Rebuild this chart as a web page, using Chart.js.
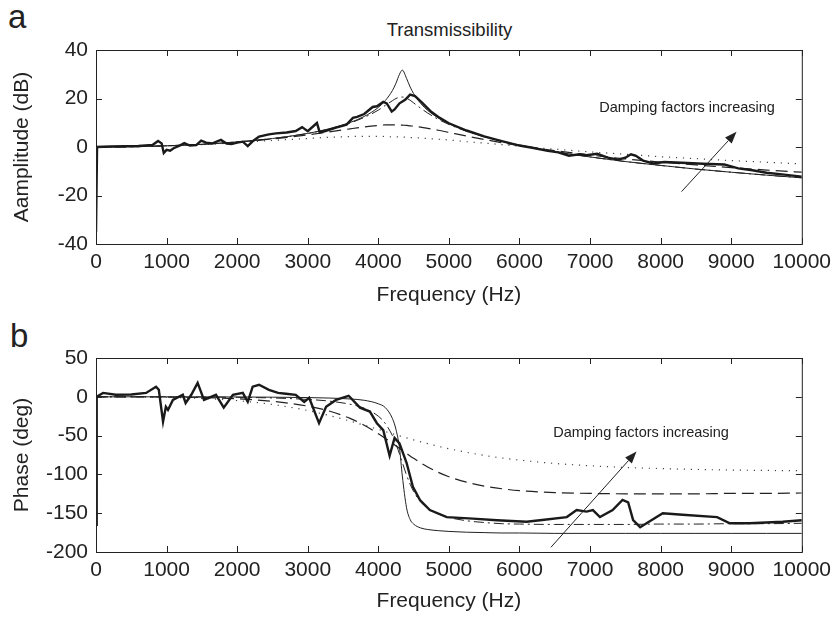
<!DOCTYPE html>
<html>
<head>
<meta charset="utf-8">
<script src="https://cdn.jsdelivr.net/npm/chart.js@4.4.0/dist/chart.umd.min.js"></script>
<style>
  body { margin: 0; background: #fff; }
  #wrap { position: relative; width: 837px; height: 618px; font-family: "Liberation Sans", Arial, sans-serif; color: #222; }
  #wrap canvas { position: absolute; left: 0; }
  .panel { position: absolute; font-size: 33px; line-height: 1; }
  #title { position: absolute; left: 96px; width: 707px; top: 21px; text-align: center; font-size: 18.5px; line-height: 1; }
</style>
</head>
<body>
<div id="wrap">
  <div class="panel" style="left:8px; top:0px;">a</div>
  <div class="panel" style="left:10px; top:319px;">b</div>
  <div id="title">Transmissibility</div>
  <canvas id="ampChart" width="837" height="310" style="top:0"></canvas>
  <canvas id="phaseChart" width="837" height="308" style="top:310px"></canvas>
</div>
<script>
// Axis ticks
const freqTicks = [0, 1000, 2000, 3000, 4000, 5000, 6000, 7000, 8000, 9000, 10000];
const ampTicks = [-40, -20, 0, 20, 40];
const phaseTicks = [-200, -150, -100, -50, 0, 50];

// Model curves share one frequency grid (Hz)
const modelFreq = [0, 500, 1000, 1500, 2000, 2500, 3000, 3300, 3600, 3800, 4000, 4100, 4200, 4250, 4300, 4340,
  4400, 4450, 4500, 4600, 4700, 4850, 5000, 5250, 5500, 5750, 6000, 6500, 7000, 7500, 8000, 8500, 9000, 9500, 10000];

// Amplitude (dB)
const ampThin = [0, 0.1, 0.5, 1.1, 2.1, 3.5, 5.6, 7.5, 10.1, 12.6, 16.3, 19.2, 23.3, 26.3, 30.0, 31.7,
  28.3, 24.8, 22.0, 18.0, 15.1, 12.0, 9.7, 6.7, 4.4, 2.4, 0.8, -1.9, -4.1, -6.0, -7.6, -9.1, -10.4, -11.6, -12.7];
const ampDashDot = [0, 0.1, 0.5, 1.1, 2.1, 3.5, 5.6, 7.4, 9.9, 12.2, 15.2, 17.2, 19.1, 20.0, 20.5, 20.6,
  20.1, 19.3, 18.2, 16.0, 14.0, 11.4, 9.3, 6.5, 4.2, 2.4, 0.7, -1.9, -4.1, -6.0, -7.6, -9.1, -10.4, -11.6, -12.7];
const ampDashed = [0, 0.1, 0.5, 1.1, 2.0, 3.3, 5.0, 6.2, 7.5, 8.3, 8.9, 9.1, 9.1, 9.1, 9.1, 9.0,
  8.9, 8.7, 8.6, 8.2, 7.7, 6.9, 6.0, 4.5, 3.1, 1.8, 0.6, -1.5, -3.3, -4.9, -6.2, -7.4, -8.5, -9.5, -10.4];
const ampDotted = [0, 0.1, 0.5, 1.0, 1.8, 2.7, 3.5, 4.0, 4.3, 4.4, 4.4, 4.3, 4.2, 4.2, 4.1, 4.1,
  4.0, 3.9, 3.9, 3.7, 3.5, 3.2, 2.9, 2.2, 1.6, 1.0, 0.3, -0.9, -2.0, -3.0, -4.0, -4.8, -5.6, -6.3, -7.0];

// Phase (deg)
const phThin = [0, 0, 0, -0.1, -0.2, -0.5, -1, -1.6, -2.8, -4.5, -9, -14, -28, -42, -66, -102,
  -143, -158, -164, -169, -171, -172.5, -173.5, -174.5, -175, -175.5, -175.5, -176, -176, -176, -176, -176, -176, -176, -176];
const phDashDot = [0, 0, -0.1, -0.3, -0.7, -1.5, -3.4, -5.5, -9.6, -14.7, -25, -34.5, -50, -60.7, -73.6, -84.6,
  -101, -112.5, -122, -135.4, -143.7, -151, -155.5, -159.7, -162, -163.5, -164, -164.5, -164.5, -164.5, -164, -164, -163.5, -163.5, -163];
const phDashed = [0, 0, -0.3, -1, -2.6, -5.8, -12, -18.3, -27.8, -36.6, -47.5, -53.6, -60, -63.3, -66.6, -69.2,
  -73, -76.2, -79.3, -85.1, -90.4, -97.4, -103, -110, -115, -118.5, -121, -123.5, -124.5, -125, -125, -125, -124.5, -124.5, -124];
const phDotted = [0, -0.1, -0.6, -2, -4.9, -9.9, -17.7, -24, -31.3, -36.6, -42, -44.8, -47.6, -48.9, -50.3, -51.3,
  -52.9, -54.2, -55.5, -58, -60.4, -63.8, -66.9, -71.5, -75.5, -78.8, -81.6, -85.9, -88.9, -91, -92.5, -93.6, -94.4, -94.9, -95.3];

// Measured response (thick line)
const measAmpFreq = [0, 15, 200, 400, 600, 800, 880, 930, 960, 1000, 1050, 1100, 1200, 1250, 1330, 1420, 1490, 1560, 1650,
  1770, 1850, 1920, 2000, 2080, 2150, 2230, 2310, 2450, 2550, 2700, 2830, 2920, 3000, 3130, 3170, 3250, 3400, 3550,
  3640, 3700, 3800, 3920, 3980, 4070, 4120, 4190, 4230, 4300, 4380, 4450, 4520, 4630, 4750, 4870, 5000, 5250, 5500,
  5750, 6000, 6200, 6400, 6550, 6700, 6850, 6950, 7100, 7250, 7400, 7500, 7580, 7650, 7750, 7900, 8050, 8300, 8600,
  8900, 9000, 9100, 9300, 9500, 9750, 10000];
const measAmp = [-35, 0, 0.2, 0.3, 0.4, 0.8, 2.5, 1.5, -2.5, -1.2, -1.5, -0.5, 0.8, 1.6, 0.6, 0.8, 2.6, 1.8, 1.5,
  2.9, 1.4, 1.2, 1.8, 2.2, 0.4, 2.6, 4.3, 5.2, 5.6, 6.0, 6.6, 8.2, 6.5, 9.9, 6.0, 6.6, 8.0, 9.2,
  12.0, 12.4, 13.6, 16.5, 16.8, 18.6, 18.0, 14.6, 15.5, 18.0, 19.5, 21.6, 21.0, 18.0, 14.5, 12.0, 9.8, 6.8, 4.4,
  2.4, 0.6, -0.4, -1.6, -2.2, -3.6, -3.0, -3.4, -2.8, -4.4, -5.2, -4.4, -3.0, -3.6, -5.6, -6.8, -6.2, -6.5, -6.9,
  -7.2, -8.0, -8.8, -9.6, -10.6, -11.4, -12.2];
const measPhFreq = [0, 10, 100, 280, 500, 710, 850, 890, 950, 990, 1020, 1090, 1230, 1270, 1350, 1440, 1530, 1700, 1810,
  1940, 2080, 2150, 2220, 2310, 2450, 2580, 2690, 2830, 2950, 3020, 3160, 3260, 3400, 3580, 3740, 3880, 3980, 4070,
  4160, 4230, 4300, 4400, 4490, 4590, 4730, 4970, 5340, 5680, 6100, 6290, 6670, 6810, 6950, 7040, 7140, 7320, 7460,
  7540, 7610, 7710, 7800, 8030, 8310, 8800, 8980, 9260, 9730, 10000];
const measPh = [-165, 0, 5, 2.6, 3, 5, 13, 9, -32, -13, -17, -4, 2.6, -8, 2.6, 18, -4, 2.6, -14,
  2.6, 5, -6.5, 13, 15.5, 9, 5, 4, 2.6, -6.5, -1.3, -34, -13, -4, 1.3, -14, -19, -34, -43,
  -76, -53, -60, -85, -116, -133, -146, -155, -157, -159, -161, -159, -155, -146, -148, -146, -155, -146, -133,
  -136, -159, -168, -163, -150, -152, -155, -163, -163, -161, -159];

// Annotations, in data units: [freq, value]
const ampNote = { text: 'Damping factors increasing', at: [7130, 16.0], from: [8296, -18.4], to: [9075, 6.3] };
const phaseNote = { text: 'Damping factors increasing', at: [6478, -46.9], from: [6445, -194], to: [7658, -70.6] };

const FONT = '"Liberation Sans", Arial, sans-serif';
const INK = '#222';

function toPoints(xs, ys) {
    return xs.map((x, i) => ({ x: x, y: ys[i] }));
}

// Box frame, inward ticks on all four sides, and the arrow note
const framePlugin = {
    id: 'frame',
    afterDraw(chart, args, opts) {
        const { ctx, chartArea: a, scales } = chart;
        ctx.save();
        ctx.strokeStyle = INK;
        ctx.lineWidth = 1;
        ctx.strokeRect(a.left + 0.5, a.top + 0.5, a.right - a.left, a.bottom - a.top);

        const len = 6;
        ctx.beginPath();
        scales.x.ticks.forEach(t => {
            const px = Math.round(scales.x.getPixelForValue(t.value)) + 0.5;
            ctx.moveTo(px, a.bottom); ctx.lineTo(px, a.bottom - len);
            ctx.moveTo(px, a.top); ctx.lineTo(px, a.top + len);
        });
        scales.y.ticks.forEach(t => {
            const py = Math.round(scales.y.getPixelForValue(t.value)) + 0.5;
            ctx.moveTo(a.left, py); ctx.lineTo(a.left + len, py);
            ctx.moveTo(a.right, py); ctx.lineTo(a.right - len, py);
        });
        ctx.stroke();

        const note = opts.note;
        if (note) {
            const x1 = scales.x.getPixelForValue(note.from[0]);
            const y1 = scales.y.getPixelForValue(note.from[1]);
            const x2 = scales.x.getPixelForValue(note.to[0]);
            const y2 = scales.y.getPixelForValue(note.to[1]);
            const ang = Math.atan2(y2 - y1, x2 - x1);
            const head = 12, half = 4.5;
            ctx.beginPath();
            ctx.moveTo(x1, y1);
            ctx.lineTo(x2 - head * Math.cos(ang), y2 - head * Math.sin(ang));
            ctx.stroke();
            ctx.beginPath();
            ctx.moveTo(x2, y2);
            ctx.lineTo(x2 - head * Math.cos(ang) + half * Math.sin(ang), y2 - head * Math.sin(ang) - half * Math.cos(ang));
            ctx.lineTo(x2 - head * Math.cos(ang) - half * Math.sin(ang), y2 - head * Math.sin(ang) + half * Math.cos(ang));
            ctx.closePath();
            ctx.fillStyle = INK;
            ctx.fill();

            ctx.font = '14.5px ' + FONT;
            ctx.textAlign = 'left';
            ctx.textBaseline = 'middle';
            ctx.fillText(note.text, scales.x.getPixelForValue(note.at[0]), scales.y.getPixelForValue(note.at[1]));
        }
        ctx.restore();
    }
};

function lineSet(points, style) {
    return Object.assign({
        data: points,
        borderColor: INK,
        borderWidth: 1,
        pointRadius: 0,
        fill: false,
        tension: 0,
        cubicInterpolationMode: 'monotone'
    }, style);
}

function makeChart(canvasId, series, yTicks, yTitle, plotTop, titlePad, note) {
    const ctx = document.getElementById(canvasId).getContext('2d');
    const tickFont = { family: FONT, size: 21 };
    return new Chart(ctx, {
        type: 'line',
        data: {
            // first dataset is drawn on top
            datasets: [
                lineSet(series.measured, { borderWidth: 2.4, borderColor: '#1a1a1a', cubicInterpolationMode: 'default' }),
                lineSet(series.thin, { borderWidth: 1 }),
                lineSet(series.dashDot, { borderWidth: 1, borderDash: [10, 4, 2, 4] }),
                lineSet(series.dashed, { borderWidth: 1.2, borderDash: [12, 6] }),
                lineSet(series.dotted, { borderWidth: 1.2, borderDash: [1.2, 5.8], borderColor: '#444' })
            ]
        },
        options: {
            responsive: false,
            animation: false,
            layout: { padding: { left: 0, right: 34, top: plotTop, bottom: 0 } },
            plugins: {
                legend: { display: false },
                tooltip: { enabled: false },
                frame: { note: note }
            },
            scales: {
                x: {
                    type: 'linear',
                    min: 0,
                    max: 10000,
                    afterBuildTicks: s => { s.ticks = freqTicks.map(v => ({ value: v })); },
                    afterFit: s => { s.height = 66; },
                    grid: { display: false, drawTicks: false },
                    border: { display: false },
                    ticks: { padding: 6, color: INK, font: tickFont, maxRotation: 0, autoSkip: false, callback: v => String(v) },
                    title: { display: true, text: 'Frequency (Hz)', color: INK, font: tickFont, padding: { top: 0, bottom: titlePad } }
                },
                y: {
                    min: yTicks[0],
                    max: yTicks[yTicks.length - 1],
                    afterBuildTicks: s => { s.ticks = yTicks.map(v => ({ value: v })); },
                    afterFit: s => { s.width = 96; },
                    grid: { display: false, drawTicks: false },
                    border: { display: false },
                    ticks: { padding: 8, color: INK, font: tickFont, autoSkip: false, callback: v => String(v) },
                    title: { display: true, text: yTitle, color: INK, font: tickFont, padding: { top: 10, bottom: 0 } }
                }
            }
        },
        plugins: [framePlugin]
    });
}

makeChart('ampChart', {
    measured: toPoints(measAmpFreq, measAmp),
    thin: toPoints(modelFreq, ampThin),
    dashDot: toPoints(modelFreq, ampDashDot),
    dashed: toPoints(modelFreq, ampDashed),
    dotted: toPoints(modelFreq, ampDotted)
}, ampTicks, 'Aamplitude (dB)', 50, 2, ampNote);

makeChart('phaseChart', {
    measured: toPoints(measPhFreq, measPh),
    thin: toPoints(modelFreq, phThin),
    dashDot: toPoints(modelFreq, phDashDot),
    dashed: toPoints(modelFreq, phDashed),
    dotted: toPoints(modelFreq, phDotted)
}, phaseTicks, 'Phase (deg)', 48, 4, phaseNote);
</script>
</body>
</html>
